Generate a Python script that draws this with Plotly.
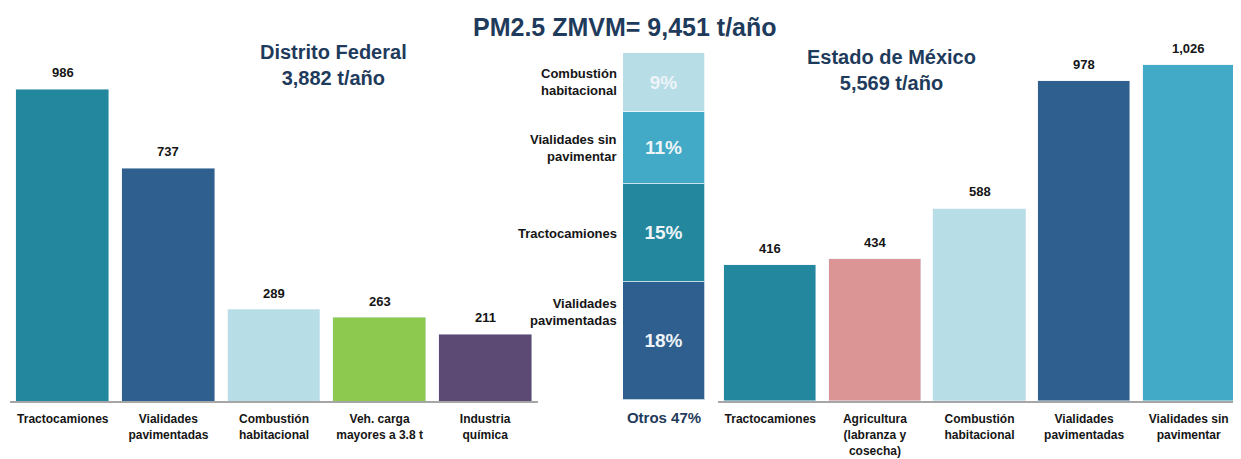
import plotly.graph_objects as go

W, H = 1241, 459
PAD = 8  # page body margin offset

# ---------------- data ----------------
df_cats = ["Tractocamiones", "Vialidades<br>pavimentadas", "Combustión<br>habitacional",
           "Veh. carga<br>mayores a 3.8 t", "Industria<br>química"]
df_vals = [986, 737, 289, 263, 211]

edomex_cats = ["Tractocamiones", "Agricultura<br>(labranza y<br>cosecha)", "Combustión<br>habitacional",
               "Vialidades<br>pavimentadas", "Vialidades sin<br>pavimentar"]
edomex_vals = [416, 434, 588, 978, 1026]

zm_cats = ["Vialidades<br>pavimentadas", "Tractocamiones", "Vialidades sin<br>pavimentar",
           "Combustión<br>habitacional"]
zm_pcts = [18, 15, 11, 9]
otros_label = "Otros 47%"

title_text = "PM2.5 ZMVM= 9,451 t/año"
df_title = "Distrito Federal<br>3,882 t/año"
edomex_title = "Estado de México<br>5,569 t/año"

# ---------------- style ----------------
TEAL = "#23889e"
NAVY_BAR = "#2e5f8e"
LIGHT = "#b7dde6"
GREEN = "#8dc94e"
PURPLE = "#5c4a75"
PINK = "#da9594"
SKY = "#42a9c6"
TITLE_COL = "#1f3b5c"
TXT = "#151515"
FONT = "Liberation Sans, Arial, sans-serif"

df_colors = [TEAL, NAVY_BAR, LIGHT, GREEN, PURPLE]
edomex_colors = [TEAL, PINK, LIGHT, NAVY_BAR, SKY]
zm_colors = [NAVY_BAR, TEAL, SKY, LIGHT]

FW, FH = W - PAD, H - PAD


def fx(px):
    return (px - PAD) / FW


def fy(py):
    return 1 - (py - PAD) / FH


fig = go.Figure()

fig.add_trace(go.Bar(
    x=df_cats, y=df_vals, marker_color=df_colors, width=0.88,
    xaxis="x", yaxis="y", showlegend=False, hoverinfo="skip"))

for cat, pct, col in zip(zm_cats, zm_pcts, zm_colors):
    fig.add_trace(go.Bar(
        x=[otros_label], y=[pct], marker_color=col, width=1,
        marker_line=dict(color="rgba(255,255,255,0.7)", width=1),
        texttemplate="%{y}%", textposition="inside", insidetextanchor="middle",
        textfont=dict(size=19, color="#eef4f8", family=FONT, weight="bold"),
        xaxis="x3", yaxis="y3", showlegend=False, hoverinfo="skip"))

fig.add_trace(go.Bar(
    x=edomex_cats, y=edomex_vals, marker_color=edomex_colors, width=0.88,
    xaxis="x2", yaxis="y2", showlegend=False, hoverinfo="skip"))

annotations = []
valfont = dict(size=13, color=TXT, family=FONT, weight="bold")
for cats, vals, xr, yr in [(df_cats, df_vals, "x", "y"), (edomex_cats, edomex_vals, "x2", "y2")]:
    for c, v in zip(cats, vals):
        annotations.append(dict(text=f"{v:,}", x=c, y=v, xref=xr, yref=yr,
                                xanchor="center", yanchor="bottom", yshift=7,
                                showarrow=False, font=valfont))

# labels beside the stacked bar
cum = 0
yshifts = [29, 0, 0, 0]
for cat, pct, ys in zip(zm_cats, zm_pcts, yshifts):
    annotations.append(dict(
        text=cat, xref="x3 domain", yref="y3", x=0, y=cum + pct / 2,
        xanchor="right", yanchor="middle", xshift=-4, yshift=ys, align="right",
        showarrow=False, font=dict(size=13, color=TXT, family=FONT, weight="bold")))
    cum += pct

annotations += [
    dict(text=title_text, xref="paper", yref="paper", x=fx(625), y=fy(27),
         xanchor="center", yanchor="middle", showarrow=False,
         font=dict(size=25, color=TITLE_COL, family=FONT, weight="bold")),
    dict(text=df_title, xref="paper", yref="paper", x=fx(333), y=fy(65),
         xanchor="center", yanchor="middle", showarrow=False, align="center",
         font=dict(size=20, color=TITLE_COL, family=FONT, weight="bold")),
    dict(text=edomex_title, xref="paper", yref="paper", x=fx(891), y=fy(70),
         xanchor="center", yanchor="middle", showarrow=False, align="center",
         font=dict(size=20, color=TITLE_COL, family=FONT, weight="bold")),
]

tickfont = dict(size=12, color=TXT, family=FONT, weight="bold")
axis_common = dict(showgrid=False, zeroline=False, fixedrange=True)

fig.update_layout(
    width=FW, height=FH, margin=dict(l=0, r=0, t=0, b=0),
    paper_bgcolor="white", plot_bgcolor="white",
    barmode="stack", bargap=0,
    font=dict(family=FONT),
    annotations=annotations,
    xaxis=dict(domain=[fx(10), fx(538)], showline=True, linecolor="#a6a6a6", linewidth=2,
               tickfont=tickfont, ticks="", ticklabelstandoff=6, anchor="y", **axis_common),
    yaxis=dict(domain=[fy(401), fy(53.4)], range=[0, 1100], visible=False, anchor="x", **axis_common),
    xaxis2=dict(domain=[fx(718), 1], showline=True, linecolor="#a6a6a6", linewidth=2,
                tickfont=tickfont, ticks="", ticklabelstandoff=6, anchor="y2", **axis_common),
    yaxis2=dict(domain=[fy(401), fy(40.75)], range=[0, 1100], visible=False, anchor="x2", **axis_common),
    xaxis3=dict(domain=[fx(623), fx(705)], showline=False, range=[-0.5, 0.5],
                tickfont=dict(size=15, color=TITLE_COL, family=FONT, weight="bold"),
                ticks="", ticklabelstandoff=7, anchor="y3", **axis_common),
    yaxis3=dict(domain=[fy(400), fy(53)], range=[0, 53], visible=False, anchor="x3", **axis_common),
)

fig.write_html("out.html")
